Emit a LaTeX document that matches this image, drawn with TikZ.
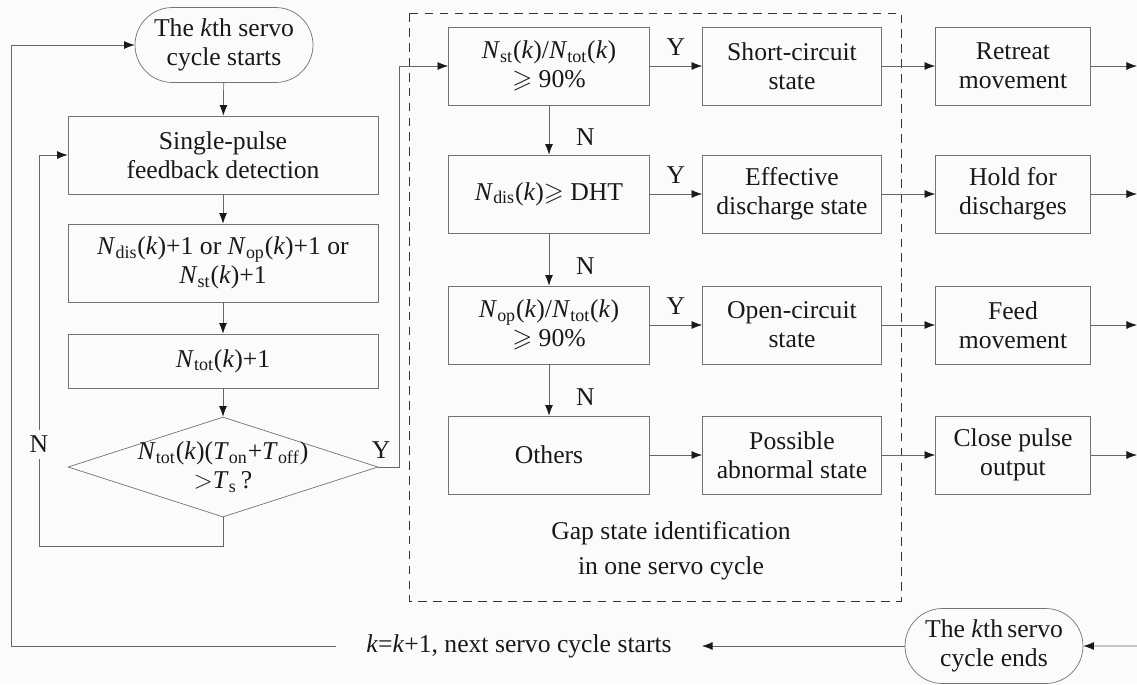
\documentclass[tikz,border=0pt]{standalone}
\usepackage{fontspec}
\setmainfont{Liberation Serif}
\usepackage{amssymb}
\usetikzlibrary{arrows.meta,shapes.geometric,shapes.misc}
\definecolor{bg}{gray}{0.985}
\newcommand{\Nsym}[1]{\textit{N}$_{\mathrm{#1}}$}
\newcommand{\Tsym}[1]{\textit{T}$_{\mathrm{#1}}$}
\tikzstyle{block}=[draw=black!55,align=center,minimum height=1.56cm,inner sep=2pt]
\tikzstyle{terminal}=[rounded rectangle,draw=black!55,align=center,minimum width=3.56cm,minimum height=1.5cm,inner sep=0pt]
\tikzstyle{decision}=[diamond,draw=black!55,align=center,aspect=3.1,minimum width=6.2cm,minimum height=2cm,inner xsep=-0.2cm,inner ysep=-0.1cm]
\tikzstyle{edge}=[draw,black!60,-{Latex[length=6pt,width=4.5pt,color=black!90]}]
\tikzstyle{yn}=[text=black!90]

\begin{document}
\begin{tikzpicture}[x=0.02cm, y=-0.02cm, text=black!90,
    font=\fontsize{14.6}{16.6}\selectfont]
	\fill[bg] (0,0) rectangle (1137,684);
	\useasboundingbox (0,0) rectangle (1137,684);

	% Left column: one servo cycle
	\node[terminal] (start) at (224,45) {The \textit{k}th servo\\cycle starts};
	\foreach \pos/\name/\txt in {{(223,155)/detect/{Single-pulse\\feedback detection}},
								{(223,263)/count/{\Nsym{dis}(\textit{k})+1 or \Nsym{op}(\textit{k})+1 or\\\Nsym{st}(\textit{k})+1}}}
	\node[block, minimum width=6.2cm] (\name) at \pos {\txt};
	\node[block, minimum width=6.2cm, minimum height=1.08cm] (tot) at (223,361) {\Nsym{tot}(\textit{k})+1};
	\node[decision] (check) at (223,467) {\Nsym{tot}(\textit{k})(\Tsym{on}+\Tsym{off})\\$>$\Tsym{s}\,?};

	% Gap state identification
	\foreach \y/\name/\txt in {66/ts/{\Nsym{st}(\textit{k})/\Nsym{tot}(\textit{k})\\$\geqslant$ 90\%},
							  194/td/{\Nsym{dis}(\textit{k})$\geqslant$ DHT},
							  325/to/{\Nsym{op}(\textit{k})/\Nsym{tot}(\textit{k})\\$\geqslant$ 90\%},
							  455/tx/{Others}}
	\node[block, minimum width=4.02cm] (\name) at (549,\y) {\txt};

	\foreach \y/\name/\txt in {66/ss/{Short-circuit\\state}, 194/sd/{Effective\\discharge state},
							  325/so/{Open-circuit\\state}, 455/sx/{Possible\\abnormal state}}
	\node[block, minimum width=3.58cm] (\name) at (792,\y) {\txt};

	% Servo actions
	\foreach \y/\name/\txt in {66/as/{Retreat\\movement}, 194/ad/{Hold for\\discharges},
							  325/ao/{Feed\\movement}, 455/ax/{Close pulse\\output}}
	\node[block, minimum width=3.1cm] (\name) at (1013,\y) {\txt};

	\draw[dashed, black!80, dash pattern=on 5pt off 3.5pt] (409,13) rectangle (901,601);
	\node[align=center, font=\fontsize{14.6}{20}\selectfont] (gapnote) at (671,551)
		{Gap state identification\\in one servo cycle};

	% Bottom row
	\node[inner xsep=0.6cm] (next) at (519,646) {\textit{k}=\textit{k}+1, next servo cycle starts};
	\node[terminal] (end) at (994,646) {The \textit{k}th\,servo\\cycle ends};

	% Loop corners and free ends
	\coordinate (nloop) at (39,546);
	\coordinate (yloop) at (399,467);
	\coordinate (oloop) at (11,646);
	\coordinate (rin) at (1137,646);

	% Connect the boxes
	\foreach \source/\dest in {start/detect, detect/count, count/tot, tot/check}
	\path[edge] (\source) -- (\dest);

	\foreach \source/\dest in {ts/td, td/to, to/tx}
	\path[edge] (\source) -- node[yn, right=0.42cm, yshift=-0.14cm] {N} (\dest);

	\foreach \source/\dest in {ts/ss, td/sd, to/so}
	\path[edge] (\source) -- node[yn, above=0.08cm] {Y} (\dest);
	\path[edge] (tx) -- (sx);

	\foreach \source/\dest in {ss/as, sd/ad, so/ao, sx/ax}
	\path[edge] (\source) -- (\dest);

	\foreach \name/\y in {as/66, ad/194, ao/325, ax/455}{
		\coordinate (\name out) at (1137,\y);
		\path[edge] (\name) -- (\name out);
	}

	\path[edge] (check.south) |- (nloop) |- node[yn, pos=0.13, fill=bg] {N} (detect.west);
	\path[edge] (check.east) -- (yloop) node[yn, above left=0.05cm] {Y} |- (ts.west);

	\path[edge] (rin) -- (end);
	\path[edge] (end) -- (next);
	\path[edge] (next.west) -- (oloop) |- (start);
\end{tikzpicture}
\end{document}
